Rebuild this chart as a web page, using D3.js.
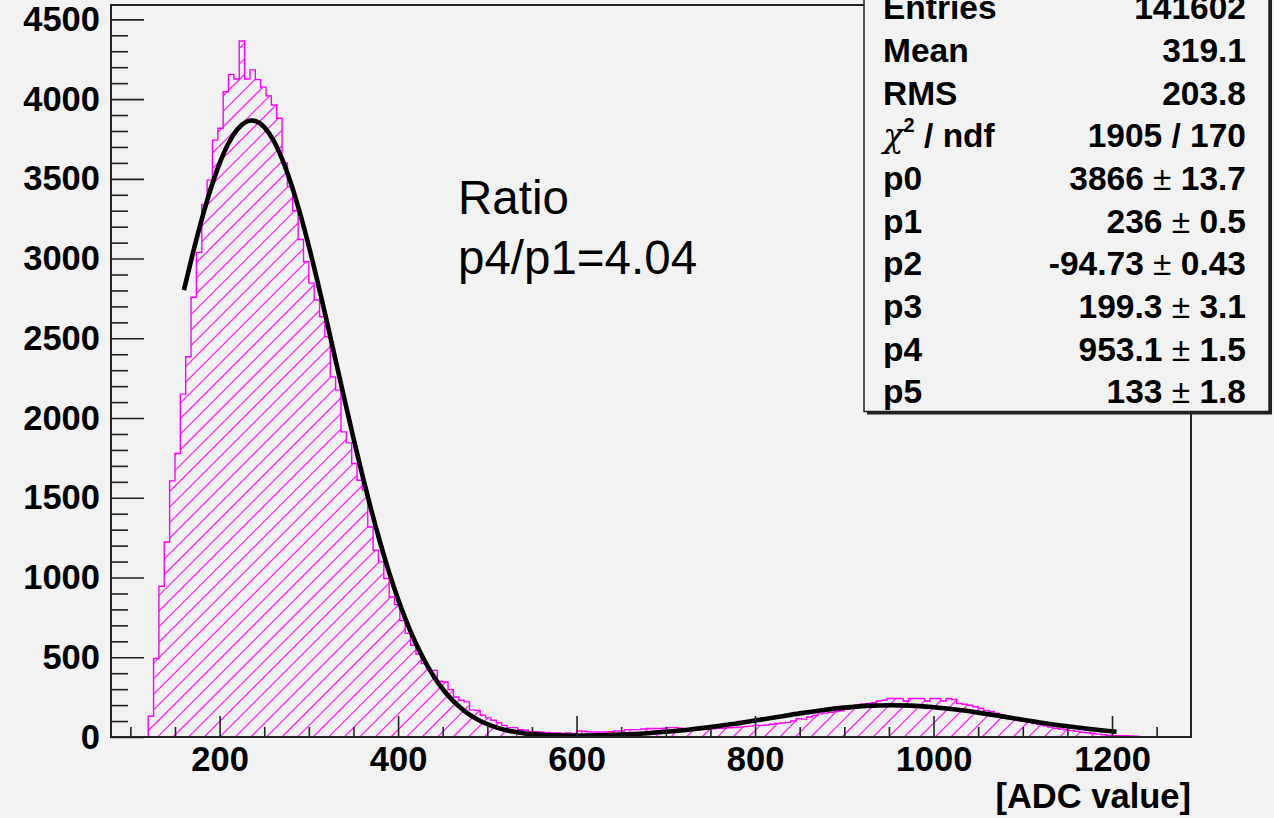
<!DOCTYPE html>
<html>
<head>
<meta charset="utf-8">
<script src="https://cdn.jsdelivr.net/npm/d3@7/dist/d3.min.js"></script>
<style>
  html, body { margin: 0; padding: 0; background: #f2f2f2; }
  svg { display: block; font-family: "Liberation Sans", Arial, sans-serif; }
</style>
</head>
<body>
<div id="vis"></div>
<script>
// histogram binning (ADC value) and counts
var binStart = 120;
var binWidth = 6;
var counts = [
  130, 492, 945, 1223, 1606, 1778, 2150, 2384, 2757, 3039,
  3340, 3492, 3743, 3817, 4046, 4155, 4126, 4364, 4126, 4183,
  4122, 4075, 4020, 3963, 3880, 3600, 3450, 3300, 3120, 2980,
  2846, 2740, 2635, 2510, 2258, 2175, 1913, 1844, 1715, 1610,
  1548, 1317, 1171, 1098, 994, 878, 830, 730, 650, 575,
  520, 460, 418, 418, 350, 345, 297, 251, 230, 220,
  170, 167, 136, 120, 105, 90, 73, 59, 59, 45,
  42, 34, 34, 30, 28, 25, 25, 22, 25, 20,
  38, 36, 31, 31, 31, 31, 33, 38, 38, 46,
  46, 46, 50, 53, 53, 53, 55, 59, 59, 55,
  50, 45, 45, 48, 50, 52, 55, 55, 58, 60,
  62, 65, 68, 73, 73, 75, 80, 85, 88, 92,
  100, 115, 112, 125, 135, 145, 150, 155, 160, 165,
  175, 185, 199, 205, 210, 215, 226, 230, 241, 241,
  241, 226, 241, 241, 241, 226, 241, 241, 226, 241,
  235, 210, 205, 199, 190, 180, 167, 160, 150, 140,
  130, 120, 110, 100, 95, 85, 78, 70, 62, 55,
  50, 45, 40, 35, 30, 27, 22, 18, 14, 10,
  8, 8, 8, 6, 5
];

// fitted curve
var fitX = [160, 170, 180, 190, 200, 210, 220, 230, 236, 240, 250, 260, 270, 280, 290, 300,
  310, 320, 330, 340, 350, 360, 370, 380, 390, 400, 410, 420, 430, 440, 450, 460, 470, 480,
  490, 500, 510, 520, 530, 540, 550, 560, 575, 600, 625, 650, 675, 700, 725, 750, 775, 800,
  825, 850, 875, 900, 925, 953, 975, 1000, 1025, 1050, 1075, 1100, 1125, 1150, 1175, 1205];
var fitY = [2802, 3033, 3246, 3436, 3597, 3723, 3811, 3858, 3866, 3863, 3824, 3744, 3625, 3471, 3286, 3077,
  2849, 2609, 2363, 2116, 1874, 1641, 1422, 1218, 1031, 864, 716, 586, 475, 380, 301, 236, 183, 140,
  107, 80, 60, 44, 33, 24, 18, 14, 10, 8, 10, 15, 22, 33, 46, 62, 81, 103,
  125, 148, 168, 184, 195, 199, 197, 187, 172, 153, 131, 108, 86, 67, 50, 33];

// axis ranges and ticks
var xRange = [78.3, 1288.5];
var yRange = [0, 4590];
var xMajor = [200, 400, 600, 800, 1000, 1200];
var xMinor = [100, 150, 250, 300, 350, 450, 500, 550, 650, 700, 750, 850, 900, 950, 1050, 1100, 1150, 1250];
var yMajor = [0, 500, 1000, 1500, 2000, 2500, 3000, 3500, 4000, 4500];
var yMinor = d3.range(100, 4500, 100).filter(function(v){ return v % 500 !== 0; });

// stats box rows
var statLabels = ["Entries", "Mean", "RMS", "chi2", "p0", "p1", "p2", "p3", "p4", "p5"];
var statValues = ["141602", "319.1", "203.8", "1905 / 170", "3866", "236", "-94.73", "199.3", "953.1", "133"];
var statErrors = [null, null, null, null, "13.7", "0.5", "0.43", "3.1", "1.5", "1.8"];

var ratioText = ["Ratio", "p4/p1=4.04"];
var xTitle = "[ADC value]";

var width = 1274, height = 818;
// frame edges (named so they don't clash with window.top)
var frameL = 111, frameR = 1191, frameT = 5, frameB = 737;

var svg = d3.select("#vis").append("svg").attr("width", width).attr("height", height);
svg.append("rect").attr("width", width).attr("height", height).attr("fill", "#f2f2f2");

var xScale = d3.scaleLinear().domain(xRange).range([frameL, frameR]);
var yScale = d3.scaleLinear().domain(yRange).range([frameB, frameT]);

// hatch pattern like ROOT fill style 3004
var defs = svg.append("defs");
defs.append("pattern")
    .attr("id", "hatch")
    .attr("patternUnits", "userSpaceOnUse")
    .attr("width", 11).attr("height", 11)
    .attr("patternTransform", "rotate(45)")
  .append("line")
    .attr("x1", 5.5).attr("y1", 0).attr("x2", 5.5).attr("y2", 11)
    .attr("stroke", "#ff00ff").attr("stroke-width", 1.1);

// step points for the histogram: go up at first edge, step through bins, drop at the end
var pts = [[binStart, 0]];
counts.forEach(function(c, i){ pts.push([binStart + i * binWidth, c]); });
pts.push([binStart + counts.length * binWidth, 0]);

var area = d3.area()
    .x(function(d){ return xScale(d[0]); })
    .y0(yScale(0))
    .y1(function(d){ return yScale(d[1]); })
    .curve(d3.curveStepAfter);
var line = d3.line()
    .x(function(d){ return xScale(d[0]); })
    .y(function(d){ return yScale(d[1]); })
    .curve(d3.curveStepAfter);

svg.append("path").datum(pts).attr("d", area).attr("fill", "url(#hatch)");
svg.append("path").datum(pts).attr("d", line)
    .attr("fill", "none").attr("stroke", "#ff00ff").attr("stroke-width", 1.4);

// fit curve
var fitLine = d3.line()
    .x(function(d){ return xScale(d[0]); })
    .y(function(d){ return yScale(d[1]); })
    .curve(d3.curveMonotoneX);
svg.append("path").datum(d3.zip(fitX, fitY)).attr("d", fitLine)
    .attr("fill", "none").attr("stroke", "#000").attr("stroke-width", 4.6)
    .attr("stroke-linejoin", "round");

// axes - ticks point into the frame like ROOT
function styleAxis(g){
  g.select(".domain").remove();
  g.selectAll("line").attr("stroke", "#222").attr("stroke-width", 1.6);
  g.selectAll("text").attr("font-size", 34.5).attr("font-weight", "bold")
    .attr("fill", "#000").attr("font-family", "'Liberation Sans', Arial, sans-serif");
}
svg.append("g").attr("transform", "translate(0," + frameB + ")")
    .call(d3.axisBottom(xScale).tickValues(xMajor).tickSize(-21).tickPadding(10).tickFormat(d3.format("d")))
    .call(styleAxis);
svg.append("g").attr("transform", "translate(0," + frameB + ")")
    .call(d3.axisBottom(xScale).tickValues(xMinor).tickSize(-10).tickFormat(""))
    .call(styleAxis);
svg.append("g").attr("transform", "translate(" + frameL + ",0)")
    .call(d3.axisLeft(yScale).tickValues(yMajor).tickSize(-33).tickPadding(11).tickFormat(d3.format("d")))
    .call(styleAxis);
svg.append("g").attr("transform", "translate(" + frameL + ",0)")
    .call(d3.axisLeft(yScale).tickValues(yMinor).tickSize(-17).tickFormat(""))
    .call(styleAxis);

// frame
svg.append("rect").attr("x", frameL).attr("y", frameT).attr("width", frameR - frameL).attr("height", frameB - frameT)
    .attr("fill", "none").attr("stroke", "#222").attr("stroke-width", 2);

// x title
svg.append("text").attr("x", frameR).attr("y", 808).attr("text-anchor", "end")
    .attr("font-size", 34.5).attr("font-weight", "bold").text(xTitle);

// ratio annotation
svg.selectAll(".ratio").data(ratioText).enter().append("text")
    .attr("class", "ratio")
    .attr("x", 458)
    .attr("y", function(d, i){ return 214 + i * 60; })
    .attr("font-size", 47.5)
    .text(function(d){ return d; });

// stats box with shadow
var bx = 864, bw = 405, by = -30, bh = 441.5;
svg.append("rect").attr("x", bx + 3).attr("y", by + 3).attr("width", bw).attr("height", bh)
    .attr("fill", "#222");
svg.append("rect").attr("x", bx).attr("y", by).attr("width", bw).attr("height", bh)
    .attr("fill", "#f2f2f2").attr("stroke", "#222").attr("stroke-width", 1.5);

var rows = svg.selectAll(".stat").data(statLabels).enter().append("g").attr("class", "stat")
    .attr("transform", function(d, i){ return "translate(0," + (19.3 + i * 42.67) + ")"; })
    .attr("font-size", 33.5).attr("font-weight", "bold");

rows.append("text").attr("x", 883)
    .each(function(d){
      var t = d3.select(this);
      if (d === "chi2") {
        t.append("tspan").attr("font-weight", "normal").attr("font-style", "italic").attr("font-family", "'DejaVu Serif', serif").attr("font-size", 34).text("\u03c7");
        t.append("tspan").attr("font-size", 20).attr("dy", -15).text("2");
        t.append("tspan").attr("dy", 15).text(" / ndf");
      } else {
        t.text(d);
      }
    });

rows.append("text").attr("x", 1246).attr("text-anchor", "end")
    .each(function(d, i){
      var t = d3.select(this);
      t.append("tspan").text(statValues[i]);
      if (statErrors[i] !== null) {
        t.append("tspan").attr("font-weight", "normal").text(" \u00b1 ");
        t.append("tspan").text(statErrors[i]);
      }
    });
</script>
</body>
</html>
